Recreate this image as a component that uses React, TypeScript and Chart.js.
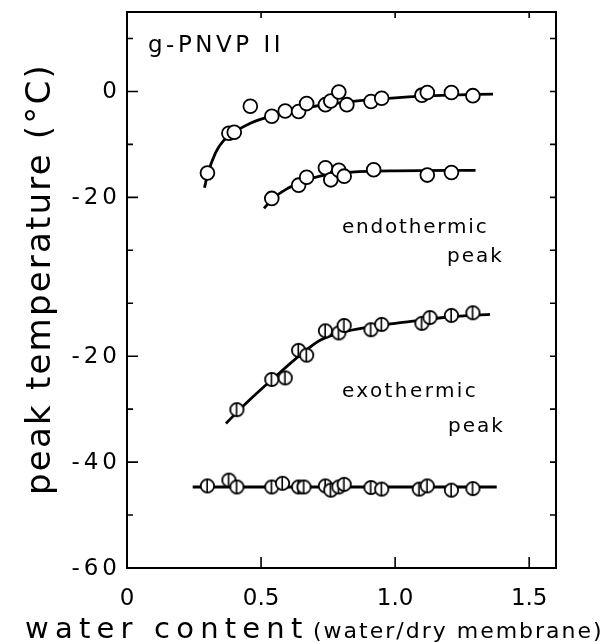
import { useEffect, useRef } from "react";
import { Chart, registerables } from "chart.js";
Chart.register(...registerables);

// Upper (endothermic) panel values are in their own °C scale and are shifted up by this offset
const ENDO_OFFSET = 30;

// Endothermic peak, main branch (°C, upper scale)
const endoMainX = [0.30, 0.38, 0.40, 0.46, 0.54, 0.59, 0.64, 0.67, 0.74, 0.76, 0.79, 0.82, 0.91, 0.95, 1.10, 1.12, 1.21, 1.29];
const endoMainY = [-15.4, -7.9, -7.7, -2.8, -4.7, -3.7, -3.8, -2.3, -2.5, -1.8, -0.1, -2.5, -1.9, -1.3, -0.7, -0.2, -0.2, -0.8];
const endoMainFitX = [0.289, 0.30, 0.33, 0.36, 0.40, 0.46, 0.54, 0.62, 0.70, 0.80, 0.90, 1.00, 1.10, 1.20, 1.365];
const endoMainFitY = [-18.2, -15.8, -11.6, -9.3, -7.7, -6.0, -4.6, -3.6, -2.8, -2.1, -1.6, -1.2, -0.9, -0.7, -0.5];

// Endothermic peak, second branch (°C, upper scale)
const endo2X = [0.54, 0.64, 0.67, 0.74, 0.76, 0.79, 0.81, 0.92, 1.12, 1.21];
const endo2Y = [-20.2, -17.7, -16.2, -14.4, -16.7, -14.9, -16.0, -14.8, -15.8, -15.3];
const endo2FitX = [0.511, 0.54, 0.60, 0.66, 0.72, 0.80, 0.90, 1.00, 1.30];
const endo2FitY = [-22.1, -20.4, -18.3, -16.9, -16.0, -15.4, -15.1, -15.0, -14.9];

// Exothermic peak, upper branch (°C, lower scale)
const exoX = [0.41, 0.54, 0.59, 0.64, 0.67, 0.74, 0.79, 0.81, 0.91, 0.95, 1.10, 1.13, 1.21, 1.29];
const exoY = [-30.1, -24.4, -24.1, -18.9, -19.8, -15.2, -15.6, -14.2, -15.0, -14.0, -13.8, -12.7, -12.3, -11.8];
const exoFitX = [0.369, 0.45, 0.55, 0.65, 0.72, 0.80, 0.90, 1.00, 1.10, 1.20, 1.354];
const exoFitY = [-32.7, -28.6, -24.0, -19.6, -17.0, -15.5, -14.5, -13.8, -13.2, -12.6, -12.1];

// Exothermic peak, low branch (°C, lower scale)
const lowX = [0.30, 0.38, 0.41, 0.54, 0.58, 0.64, 0.66, 0.74, 0.76, 0.79, 0.81, 0.91, 0.95, 1.09, 1.12, 1.21, 1.29];
const lowY = [-44.5, -43.4, -44.7, -44.7, -44.0, -44.7, -44.7, -44.5, -45.3, -44.7, -44.2, -44.8, -45.1, -45.1, -44.5, -45.3, -45.0];
const lowFitX = [0.245, 1.379];
const lowFitY = [-44.7, -44.7];

// Axes
const xTickValues = [0, 0.5, 1.0, 1.5];
const xTickLabels = ["0", "0.5", "1.0", "1.5"];
const yLabelValues = [-60, -40, -20, 10, 30];
const yLabelTexts = ["-60", "-40", "-20", "-20", "0"];
const yMinorValues = [-50, -40, -30, -20, -10, 0, 10, 20, 30, 40];

const FONT = "'DejaVu Sans', sans-serif";

function pts(xs: number[], ys: number[], off = 0) {
  return xs.map((x, i) => ({ x, y: ys[i] + off }));
}

function makeSplitCircle(): HTMLCanvasElement {
  const c = document.createElement("canvas");
  const s = 17;
  c.width = s;
  c.height = s;
  const g = c.getContext("2d")!;
  const r = 6.7;
  g.beginPath();
  g.arc(s / 2, s / 2, r, 0, Math.PI * 2);
  g.fillStyle = "#fff";
  g.fill();
  g.lineWidth = 1.8;
  g.strokeStyle = "#000";
  g.stroke();
  g.beginPath();
  g.moveTo(s / 2 - 0.3, s / 2 - r);
  g.lineTo(s / 2 - 0.3, s / 2 + r);
  g.lineWidth = 1.6;
  g.stroke();
  return c;
}

const framePlugin = {
  id: "frameAndText",
  beforeDatasetsDraw(chart: any) {
    const { ctx, chartArea: a, scales } = chart;
    const xs = scales.x;
    const ys = scales.y;
    ctx.save();
    ctx.strokeStyle = "#000";
    ctx.lineWidth = 2;
    ctx.strokeRect(a.left, a.top, a.right - a.left, a.bottom - a.top);
    ctx.lineWidth = 1.6;
    ctx.beginPath();
    yMinorValues.forEach((v) => {
      const y = ys.getPixelForValue(v);
      const long = yLabelValues.includes(v);
      ctx.moveTo(a.left, y);
      ctx.lineTo(a.left + (long ? 11 : 6), y);
      ctx.moveTo(a.right, y);
      ctx.lineTo(a.right - 6, y);
    });
    xTickValues.forEach((v) => {
      if (v === 0) return;
      const x = xs.getPixelForValue(v);
      ctx.moveTo(x, a.bottom);
      ctx.lineTo(x, a.bottom - 11);
      ctx.moveTo(x, a.top);
      ctx.lineTo(x, a.top + 6);
    });
    ctx.stroke();
    ctx.restore();
  },
  afterDraw(chart: any) {
    const { ctx, chartArea: a, scales } = chart;
    const text = (t: string, x: number, y: number, size: number, sp: number) => {
      ctx.font = `${size}px ${FONT}`;
      (ctx as any).letterSpacing = `${sp}px`;
      ctx.fillText(t, x, y);
    };
    ctx.save();
    ctx.fillStyle = "#000";
    // y tick labels (wide-set digits as in the original)
    ctx.textAlign = "right";
    ctx.textBaseline = "middle";
    yLabelValues.forEach((v, i) => {
      text(yLabelTexts[i], a.left - 10 + 4, scales.y.getPixelForValue(v) + 1, 23, 4);
    });
    ctx.textAlign = "left";
    ctx.textBaseline = "alphabetic";
    text("g-PNVP II", 148, 52, 23, 3.5);
    text("endothermic", 342, 233, 20, 1.8);
    text("peak", 447, 262, 20, 2);
    text("exothermic", 342, 397, 20, 2.4);
    text("peak", 448, 432, 20, 2);
    text("water content", 25, 638, 29, 6.2);
    text("(water/dry membrane)", 313, 638, 22, 2.0);
    ctx.translate(50, 279);
    ctx.rotate(-Math.PI / 2);
    ctx.textAlign = "center";
    text("peak temperature (°C)", 0, 0, 34, 2.2);
    ctx.restore();
  },
};

export default function App() {
  const ref = useRef<HTMLCanvasElement>(null);
  useEffect(() => {
    document.body.style.margin = "0";
    const split = makeSplitCircle();
    const circle = {
      showLine: false,
      pointStyle: "circle",
      pointRadius: 6.9,
      pointBorderWidth: 1.8,
      pointBackgroundColor: "#fff",
      pointBorderColor: "#000",
      order: 1,
    };
    const splitPts = {
      showLine: false,
      pointStyle: split,
      pointRadius: 8,
      order: 1,
    };
    const line = {
      showLine: true,
      pointRadius: 0,
      borderColor: "#000",
      borderWidth: 2.8,
      cubicInterpolationMode: "monotone",
      order: 2,
    };
    const chart = new Chart(ref.current!, {
      type: "scatter",
      data: {
        datasets: [
          { ...line, data: pts(endoMainFitX, endoMainFitY, ENDO_OFFSET) },
          { ...line, data: pts(endo2FitX, endo2FitY, ENDO_OFFSET) },
          { ...line, data: pts(exoFitX, exoFitY) },
          { ...line, data: pts(lowFitX, lowFitY) },
          { ...circle, data: pts(endoMainX, endoMainY, ENDO_OFFSET) },
          { ...circle, data: pts(endo2X, endo2Y, ENDO_OFFSET) },
          { ...splitPts, data: pts(exoX, exoY) },
          { ...splitPts, data: pts(lowX, lowY) },
        ] as any,
      },
      options: {
        animation: false,
        responsive: true,
        maintainAspectRatio: false,
        layout: { padding: { top: 12, right: 45, left: 0, bottom: 0 } },
        plugins: { legend: { display: false }, tooltip: { enabled: false } },
        scales: {
          x: {
            type: "linear",
            min: 0,
            max: 1.6,
            grid: { display: false, drawTicks: false },
            border: { display: false },
            afterBuildTicks: (s: any) => {
              s.ticks = xTickValues.map((v) => ({ value: v }));
            },
            afterFit: (s: any) => {
              s.height = 74;
              s.paddingLeft = 0;
              s.paddingRight = 0;
            },
            ticks: {
              padding: 17,
              color: "#000",
              font: { family: FONT, size: 23 },
              maxRotation: 0,
              autoSkip: false,
              callback: (_v: any, i: number) => xTickLabels[i],
            },
          },
          y: {
            type: "linear",
            min: -60,
            max: 45,
            grid: { display: false, drawTicks: false },
            border: { display: false },
            afterBuildTicks: (s: any) => {
              s.ticks = yLabelValues.map((v) => ({ value: v }));
            },
            afterFit: (s: any) => {
              s.width = 127;
              s.paddingTop = 0;
              s.paddingBottom = 0;
            },
            ticks: { display: false },
          },
        },
      } as any,
      plugins: [framePlugin],
    });
    return () => chart.destroy();
  }, []);
  return (
    <div style={{ width: 601, height: 642, position: "relative", overflow: "hidden" }}>
      <canvas ref={ref} />
    </div>
  );
}
